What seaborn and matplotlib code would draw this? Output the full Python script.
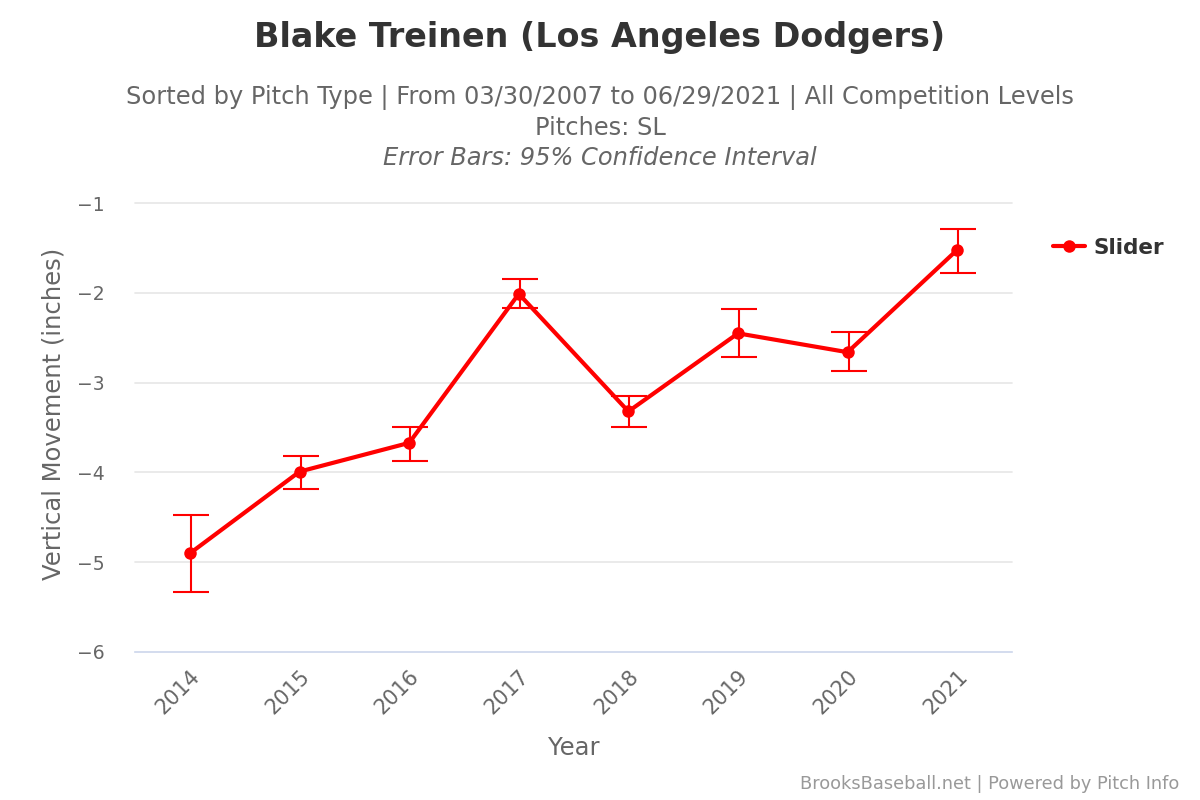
import numpy as np
import pandas as pd
import matplotlib
matplotlib.use("Agg")
import matplotlib.pyplot as plt
import seaborn as sns

years = ["2014", "2015", "2016", "2017", "2018", "2019", "2020", "2021"]
slider_mean = [-4.90, -3.99, -3.67, -2.01, -3.32, -2.45, -2.66, -1.52]
slider_low = [-5.33, -4.18, -3.87, -2.17, -3.49, -2.71, -2.87, -1.78]
slider_high = [-4.47, -3.82, -3.49, -1.85, -3.15, -2.18, -2.44, -1.29]
y_ticks = [-6, -5, -4, -3, -2, -1]

sns.set_theme(style="white")
plt.rcParams["font.family"] = ["DejaVu Sans"]

df = pd.DataFrame({"year": years, "mean": slider_mean, "low": slider_low, "high": slider_high})
df["pos"] = np.arange(len(df))

fig = plt.figure(figsize=(12, 8), dpi=100)
ax = fig.add_axes([0.1127, 0.185, 0.7306, 0.561])

red = "#ff0000"
for yv in y_ticks[1:]:
    ax.axhline(yv, color="#e6e6e6", lw=1.2, zorder=0, clip_on=False)

ax.errorbar(df["pos"] + 0.01, df["mean"],
            yerr=[df["mean"] - df["low"], df["high"] - df["mean"]],
            fmt="none", ecolor=red, elinewidth=1.5, capsize=13, capthick=1.5, zorder=2)
sns.lineplot(data=df, x="pos", y="mean", ax=ax, color=red, lw=3, marker="o",
             markersize=9, markeredgewidth=0, label="Slider", zorder=3)

ax.set_xlim(-0.5, len(years) - 0.5)
ax.set_ylim(-6, -1)
ax.set_xticks(df["pos"])
ax.set_xticklabels(years, rotation=45, ha="right", rotation_mode="anchor")
ax.set_yticks(y_ticks)
ax.set_yticklabels([f"\u2212{abs(v)}" for v in y_ticks])
ax.tick_params(axis="both", colors="#666666", length=0)
ax.tick_params(axis="x", pad=10, labelsize=15)
ax.tick_params(axis="y", pad=22, labelsize=13.5)
for s in ["top", "right", "left"]:
    ax.spines[s].set_visible(False)
ax.spines["bottom"].set_color("#ccd6eb")
ax.spines["bottom"].set_linewidth(1.2)

ax.set_xlabel("Year", fontsize=17.5, color="#666666", labelpad=13)
ax.set_ylabel("Vertical Movement (inches)", fontsize=17.5, color="#666666", labelpad=8)
ax.yaxis.label.set_y(0.53)

leg = ax.legend(loc="upper left", bbox_to_anchor=(1.037, 0.942), frameon=False,
                handlelength=1.5, handletextpad=0.4, fontsize=15.5, borderaxespad=0)
for t in leg.get_texts():
    t.set_color("#333333")
    t.set_fontweight("bold")

fig.text(0.5, 0.953, "Blake Treinen (Los Angeles Dodgers)", ha="center", va="center",
         fontsize=24, fontweight="bold", color="#333333")
fig.text(0.5, 0.878, "Sorted by Pitch Type | From 03/30/2007 to 06/29/2021 | All Competition Levels",
         ha="center", va="center", fontsize=17.4, color="#666666")
fig.text(0.5, 0.840, "Pitches: SL", ha="center", va="center", fontsize=17.4, color="#666666")
fig.text(0.5, 0.803, "Error Bars: 95% Confidence Interval", ha="center", va="center",
         fontsize=17.4, color="#666666", style="italic")
fig.text(0.983, 0.02, "BrooksBaseball.net | Powered by Pitch Info", ha="right", va="center",
         fontsize=12.8, color="#999999")

fig.savefig("out.png", dpi=100)
